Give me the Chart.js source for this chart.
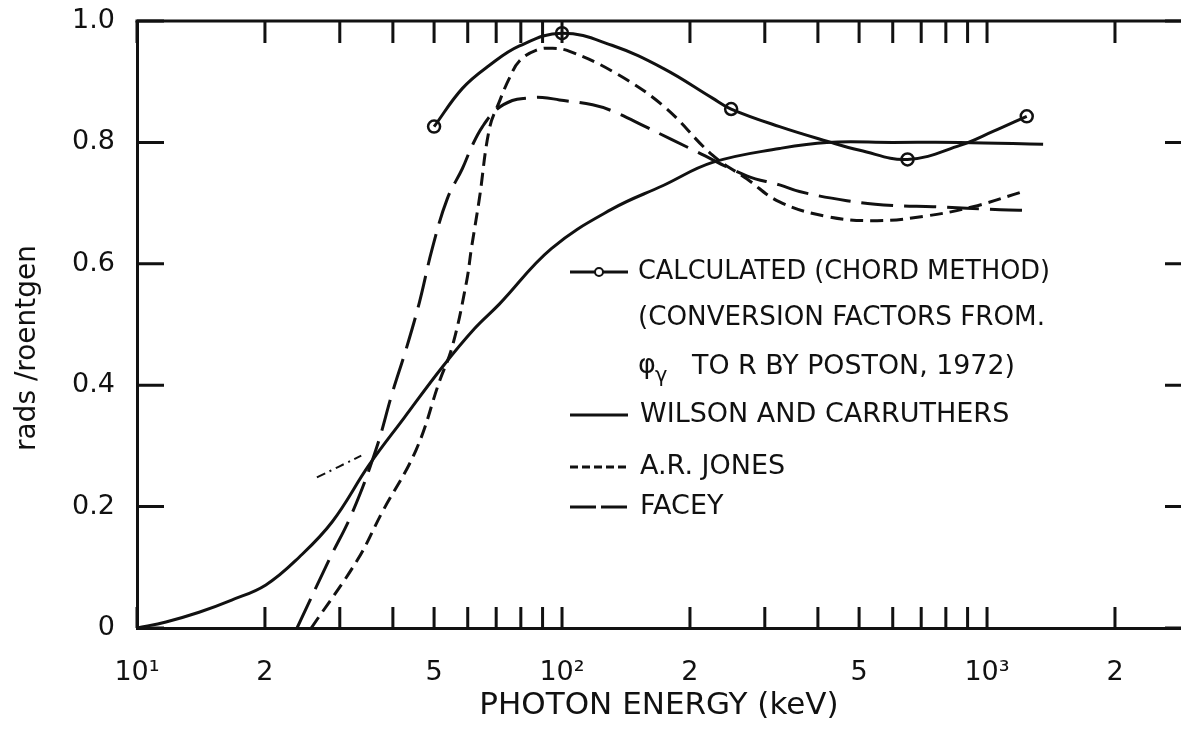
<!DOCTYPE html>
<html><head><meta charset="utf-8">
<script src="https://cdn.jsdelivr.net/npm/chart.js@4/dist/chart.umd.min.js"></script>
<style>html,body{margin:0;padding:0;background:#fff;}canvas{display:block;}</style>
</head><body>
<canvas id="c" width="1181" height="731"></canvas>
<script>
// ---- data ----
const xTickValues = [10,20,30,40,50,60,70,80,90,100,200,300,400,500,600,700,800,900,1000,2000];
const xTickLabels = ['10\u00B9','2','','','5','','','','','10\u00B2','2','','','5','','','','','10\u00B3','2'];
const yTickValues = [0, 0.2, 0.4, 0.6, 0.8, 1.0];
const yTickLabels = ['0', '0.2', '0.4', '0.6', '0.8', '1.0'];

const calcCircleE = [50, 100, 250, 650, 1240];
const calcCircleV = [0.826, 0.980, 0.855, 0.772, 0.843];
const calcCurveE = [50, 58.3, 67.5, 79.4, 100, 131, 173, 226, 250, 325, 420, 502, 650, 864, 1033, 1240];
const calcCurveV = [0.826, 0.889, 0.927, 0.959, 0.980, 0.960, 0.922, 0.873, 0.855, 0.826, 0.802, 0.787, 0.772, 0.795, 0.818, 0.843];

const wilsonE = [10, 11.7, 14.0, 16.7, 20.1, 24.1, 28.8, 35.2, 42.6, 52.3, 62.2, 71.3, 94.4, 131, 173, 226, 325, 420, 600, 864, 1355];
const wilsonV = [0, 0.010, 0.026, 0.046, 0.071, 0.117, 0.175, 0.269, 0.347, 0.430, 0.493, 0.534, 0.625, 0.690, 0.729, 0.767, 0.790, 0.800, 0.800, 0.800, 0.797];

const jonesE = [25.7, 33.0, 37.7, 45.4, 51.4, 55.2, 59.6, 61.2, 63.9, 67.5, 71.3, 75.2, 79.4, 87.1, 95.1, 104.2, 131.5, 172.6, 226, 272, 325, 420, 551, 722, 927, 1216];
const jonesV = [0, 0.112, 0.190, 0.294, 0.405, 0.464, 0.570, 0.625, 0.707, 0.823, 0.868, 0.906, 0.934, 0.952, 0.955, 0.950, 0.917, 0.861, 0.779, 0.740, 0.702, 0.678, 0.671, 0.679, 0.694, 0.719];

const faceyE = [23.8, 28.3, 32.1, 36.5, 39.9, 43.0, 46.2, 49.5, 53.7, 58.3, 61.5, 65.0, 70.1, 76.4, 82.5, 89.9, 98.6, 118, 131, 158, 207, 272, 325, 362, 468, 601, 747, 1074, 1262];
const faceyV = [0, 0.112, 0.190, 0.294, 0.388, 0.460, 0.537, 0.625, 0.707, 0.757, 0.795, 0.826, 0.854, 0.869, 0.873, 0.874, 0.870, 0.862, 0.852, 0.825, 0.785, 0.745, 0.730, 0.719, 0.704, 0.696, 0.694, 0.689, 0.688];

const strayE = [26.5, 33.7];
const strayV = [0.248, 0.284];

const seriesLabels = ['CALCULATED (CHORD METHOD)', 'WILSON AND CARRUTHERS', 'A.R. JONES', 'FACEY'];
const legendExtraLines = ['(CONVERSION FACTORS FROM.', 'TO R BY POSTON, 1972)'];

const xTitle = 'PHOTON ENERGY (keV)';
const yTitle = 'rads /roentgen';

// ---- chart ----
const INK = '#111';
const FAM = "'DejaVu Sans', 'Liberation Sans', sans-serif";
Chart.defaults.font.family = FAM;
Chart.defaults.color = INK;

const pts = (xs, ys) => xs.map((x, i) => ({x: x, y: ys[i]}));

const framePlugin = {
  id: 'frameAndLegend',
  afterDraw(chart) {
    const {ctx, chartArea: a, scales: {x, y}} = chart;
    ctx.save();
    ctx.strokeStyle = INK;
    ctx.fillStyle = INK;
    ctx.lineWidth = 3;
    ctx.lineCap = 'butt';
    // top frame line
    ctx.beginPath();
    ctx.moveTo(a.left - 1.5, a.top);
    ctx.lineTo(a.right, a.top);
    ctx.stroke();
    // inward x ticks (bottom and top)
    x.ticks.forEach(t => {
      const px = x.getPixelForValue(t.value);
      ctx.beginPath();
      ctx.moveTo(px, a.bottom); ctx.lineTo(px, a.bottom - 21);
      ctx.moveTo(px, a.top); ctx.lineTo(px, a.top + 22);
      ctx.stroke();
    });
    // inward y ticks (left and right)
    y.ticks.forEach(t => {
      const py = y.getPixelForValue(t.value);
      ctx.beginPath();
      ctx.moveTo(a.left, py); ctx.lineTo(a.left + 27, py);
      ctx.moveTo(a.right - 16, py); ctx.lineTo(a.right, py);
      ctx.stroke();
    });

    // y title
    ctx.save();
    ctx.translate(28, 348);
    ctx.rotate(-Math.PI / 2);
    ctx.font = '28px ' + FAM;
    ctx.textAlign = 'center';
    ctx.textBaseline = 'middle';
    ctx.fillText(yTitle, 0, 0, 217);
    ctx.restore();

    // legend
    const sx0 = 570, sx1 = 628, tx = 638;
    const drawSample = (yy, dash, circle) => {
      ctx.save();
      ctx.lineWidth = 3;
      ctx.setLineDash(dash);
      ctx.beginPath(); ctx.moveTo(sx0, yy); ctx.lineTo(sx1, yy); ctx.stroke();
      ctx.setLineDash([]);
      if (circle) {
        ctx.fillStyle = '#fff';
        ctx.lineWidth = 2;
        ctx.beginPath(); ctx.arc((sx0 + sx1) / 2, yy, 4, 0, Math.PI * 2);
        ctx.fill(); ctx.stroke();
      }
      ctx.restore();
    };
    ctx.font = '27px ' + FAM;
    ctx.textAlign = 'left';
    ctx.textBaseline = 'middle';
    drawSample(272, [], true);
    ctx.fillText(seriesLabels[0], tx, 272, 412);
    ctx.fillText(legendExtraLines[0], tx, 318, 407);
    // phi_gamma line
    ctx.fillText('\u03C6', tx, 366);
    ctx.font = '21px ' + FAM;
    ctx.fillText('\u03B3', tx + 17, 377);
    ctx.font = '27px ' + FAM;
    ctx.fillText(legendExtraLines[1], 692, 367, 323);
    drawSample(415, [], false);
    ctx.fillText(seriesLabels[1], 640, 415, 373);
    drawSample(467, [8, 4], false);
    ctx.fillText(seriesLabels[2], 640, 467, 150);
    drawSample(507, [26, 5], false);
    ctx.fillText(seriesLabels[3], 640, 507, 90);
    ctx.restore();
  }
};

const lineDs = (label, data, dash, width) => ({
  label: label, data: data, borderColor: INK, borderWidth: width || 3,
  borderDash: dash || [], pointRadius: 0, tension: 0.4, fill: false,
  borderCapStyle: 'butt'
});

new Chart(document.getElementById('c'), {
  type: 'line',
  data: {
    datasets: [
      lineDs(seriesLabels[0], pts(calcCurveE, calcCurveV)),
      lineDs(seriesLabels[1], pts(wilsonE, wilsonV)),
      lineDs(seriesLabels[2], pts(jonesE, jonesV), [13, 7]),
      lineDs(seriesLabels[3], pts(faceyE, faceyV), [32, 11]),
      lineDs('stray', pts(strayE, strayV), [9, 5, 2, 5], 2),
      {
        label: 'calculated points', data: pts(calcCircleE, calcCircleV), showLine: false,
        pointRadius: 6, pointStyle: 'circle', pointBackgroundColor: '#fff',
        pointBorderColor: INK, pointBorderWidth: 2.5
      }
    ]
  },
  options: {
    responsive: false,
    animation: false,
    events: [],
    layout: {autoPadding: false, padding: {top: 21, left: 0, right: 0, bottom: 0}},
    plugins: {legend: {display: false}, tooltip: {enabled: false}},
    scales: {
      x: {
        type: 'logarithmic', min: 10, max: 2860,
        afterBuildTicks: s => { s.ticks = xTickValues.map(v => ({value: v})); },
        afterFit: s => { s.height = 103; s.paddingLeft = 0; s.paddingRight = 0; },
        grid: {display: false},
        border: {display: true, color: INK, width: 3},
        ticks: {
          autoSkip: false, maxRotation: 0, minRotation: 0, padding: 21, color: INK,
          font: {size: 27},
          callback: v => { const i = xTickValues.indexOf(v); return i >= 0 ? xTickLabels[i] : ''; }
        },
        title: {display: true, text: xTitle, color: INK, font: {size: 31}, padding: {top: 0, bottom: 6}}
      },
      y: {
        type: 'linear', min: 0, max: 1,
        afterBuildTicks: s => { s.ticks = yTickValues.map(v => ({value: v})); },
        afterFit: s => { s.width = 137; s.paddingTop = 0; s.paddingBottom = 0; },
        grid: {display: false},
        border: {display: true, color: INK, width: 3},
        ticks: {
          padding: 14, color: INK, font: {size: 27},
          callback: v => { const i = yTickValues.findIndex(t => Math.abs(t - v) < 1e-9); return i >= 0 ? yTickLabels[i] : ''; }
        }
      }
    }
  },
  plugins: [framePlugin]
});
</script>
</body></html>
